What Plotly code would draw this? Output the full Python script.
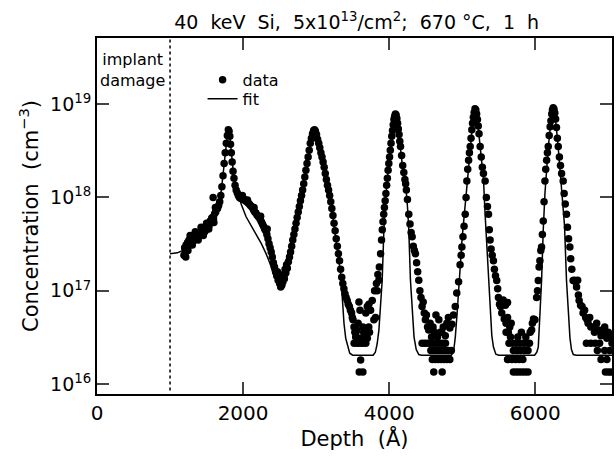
import plotly.graph_objects as go

# ---------------- data (depth in Å, concentration in cm^-3) ----------------
peak1_pts = [
    (1190, 2.4e17), (1200, 2.9e17), (1210, 2.6e17), (1215, 2.3e17), (1220, 3.1e17), (1230, 2.8e17),
    (1240, 3.3e17), (1245, 2.7e17), (1250, 3.0e17), (1260, 3.5e17), (1270, 3.2e17), (1275, 3.9e17),
    (1280, 3.6e17), (1290, 3.3e17), (1300, 3.8e17), (1305, 3.1e17), (1310, 3.4e17), (1320, 3.7e17),
    (1335, 3.5e17), (1345, 4.3e17), (1350, 3.9e17), (1360, 3.6e17), (1375, 4.1e17), (1385, 3.5e17),
    (1390, 3.8e17), (1400, 4.2e17), (1415, 4.0e17), (1425, 4.8e17), (1430, 4.4e17), (1445, 4.1e17),
    (1455, 3.9e17), (1460, 4.6e17), (1475, 4.3e17), (1490, 4.9e17), (1500, 5.3e17), (1505, 4.6e17),
    (1520, 5.2e17), (1530, 4.6e17), (1535, 5.0e17), (1550, 5.6e17), (1565, 5.4e17), (1570, 6.0e17),
    (1580, 6.1e17), (1590, 1.0e18), (1595, 5.9e17), (1600, 5.4e17), (1610, 6.7e17), (1620, 7.8e17),
    (1625, 7.0e17), (1650, 7.6e17), (1665, 8.2e17), (1680, 9.0e17), (1695, 1.05e18), (1710, 1.3e18),
    (1725, 1.7e18), (1740, 2.3e18), (1755, 3.0e18), (1770, 3.8e18), (1785, 4.6e18), (1798, 5.3e18),
    (1808, 5.1e18), (1818, 4.5e18), (1828, 3.7e18), (1838, 3.0e18), (1850, 2.4e18), (1862, 1.9e18),
    (1875, 1.6e18), (1890, 1.35e18), (1905, 1.2e18), (1920, 1.12e18), (1935, 1.05e18), (1950, 1.0e18),
    (1965, 9.8e17), (1980, 9.7e17), (1990, 1.05e18), (1995, 9.5e17), (2010, 9.6e17), (2025, 9.3e17),
    (2040, 9.1e17), (2055, 9.0e17), (2060, 9.4e17), (2070, 8.7e17), (2085, 8.5e17), (2100, 8.2e17),
    (2115, 8.0e17), (2130, 7.7e17), (2145, 7.3e17), (2150, 7.8e17), (2160, 7.0e17), (2175, 6.8e17),
    (2190, 6.5e17), (2205, 6.3e17), (2220, 6.1e17), (2235, 5.8e17), (2240, 6.3e17), (2250, 5.5e17),
    (2265, 5.2e17), (2280, 4.9e17), (2295, 4.6e17), (2310, 4.4e17), (2325, 4.0e17), (2330, 4.6e17),
    (2340, 3.6e17), (2355, 3.2e17), (2370, 2.9e17), (2385, 2.6e17), (2400, 2.3e17), (2415, 2.0e17),
    (2430, 1.8e17), (2445, 1.6e17), (2460, 1.45e17),
]
valley1_pts = [
    (2470, 1.6e17), (2480, 1.3e17), (2490, 1.5e17), (2500, 1.2e17), (2505, 1.4e17), (2515, 1.1e17),
    (2520, 1.3e17), (2530, 1.15e17), (2535, 1.45e17), (2545, 1.25e17), (2555, 1.5e17), (2565, 1.35e17),
    (2575, 1.7e17), (2585, 1.55e17), (2595, 1.9e17), (2605, 1.75e17), (2620, 2.05e17),
]
peak2_pts = [
    (2635, 2.3e17), (2650, 2.6e17), (2665, 3.0e17), (2680, 3.5e17), (2695, 4.0e17), (2710, 4.6e17),
    (2725, 5.3e17), (2740, 6.1e17), (2755, 7.0e17), (2770, 8.0e17), (2785, 9.2e17), (2800, 1.05e18),
    (2815, 1.2e18), (2830, 1.4e18), (2845, 1.65e18), (2860, 1.95e18), (2875, 2.3e18), (2890, 2.7e18),
    (2905, 3.2e18), (2920, 3.8e18), (2935, 4.3e18), (2950, 4.8e18), (2965, 5.2e18), (2978, 5.3e18),
    (2990, 5.1e18), (3005, 4.7e18), (3020, 4.2e18), (3035, 3.8e18), (3050, 3.4e18), (3065, 3.0e18),
    (3080, 2.7e18), (3095, 2.4e18), (3110, 2.1e18), (3125, 1.8e18), (3140, 1.55e18), (3155, 1.35e18),
    (3170, 1.2e18), (3185, 1.05e18), (3200, 9.0e17), (3215, 7.6e17), (3230, 6.4e17), (3245, 5.3e17),
    (3260, 4.4e17), (3275, 3.6e17), (3290, 3.0e17), (3305, 2.5e17), (3320, 2.1e17), (3335, 1.7e17),
    (3350, 1.4e17), (3365, 1.2e17),
]
trough1_pts = [
    (3380, 1.05e17), (3395, 9.3e16), (3410, 8.5e16), (3425, 7.9e16), (3440, 7.2e16), (3455, 6.8e16),
    (3470, 6.2e16), (3485, 5.8e16), (3495, 5.2e16), (3505, 4.9e16), (3518, 4.1e16), (3530, 3.6e16),
    (3541, 3.2e16), (3555, 3.8e16), (3575, 4.5e16), (3586, 7.6e16), (3600, 6.2e16), (3609, 1.82e16),
    (3590, 1.35e16), (3640, 1.35e16), (3520, 2.75e16), (3560, 2.75e16), (3600, 2.75e16), (3640, 2.75e16),
    (3680, 2.75e16), (3580, 3.1e16), (3620, 3.1e16), (3660, 3.1e16), (3700, 3.1e16), (3545, 3.6e16),
    (3650, 3.6e16), (3690, 3.6e16), (3730, 3.6e16), (3640, 4.1e16), (3720, 4.1e16), (3680, 5.8e16),
    (3700, 6.8e16), (3722, 7.2e16), (3745, 6.2e16), (3768, 7.9e16), (3790, 4.9e16), (3800, 1.0e17),
    (3813, 5.2e16), (3825, 1.2e17), (3836, 1.0e17), (3845, 1.5e17), (3859, 1.3e17), (3865, 1.8e17),
    (3882, 2.5e17),
]
peak3_pts = [
    (3895, 3.5e17), (3905, 4.5e17), (3915, 5.5e17), (3925, 6.6e17), (3935, 7.8e17), (3945, 9.2e17),
    (3955, 1.1e18), (3965, 1.35e18), (3975, 1.6e18), (3985, 1.95e18), (3995, 2.3e18), (4005, 2.7e18),
    (4015, 3.2e18), (4025, 3.8e18), (4035, 4.5e18), (4045, 5.2e18), (4055, 6.0e18), (4065, 6.8e18),
    (4075, 7.4e18), (4085, 7.8e18), (4095, 7.6e18), (4105, 7.0e18), (4115, 6.2e18), (4125, 5.4e18),
    (4135, 4.7e18), (4145, 4.0e18), (4155, 3.5e18), (4170, 2.8e18), (4185, 2.2e18), (4200, 1.85e18),
    (4215, 1.55e18), (4225, 1.4e18), (4235, 1.2e18), (4250, 9.5e17), (4268, 6.6e17), (4285, 5.2e17),
    (4300, 4.2e17), (4314, 3.8e17), (4330, 3.0e17), (4345, 2.7e17), (4359, 2.5e17), (4375, 2.0e17),
    (4390, 1.6e17), (4405, 1.3e17), (4420, 1.0e17), (4435, 8.5e16), (4450, 6.8e16), (4465, 7.6e16),
    (4480, 5.8e16), (4495, 4.9e16), (4510, 5.5e16), (4525, 4.1e16), (4541, 3.8e16),
]
trough2_pts = [
    (4560, 4.5e16), (4580, 3.2e16), (4600, 4.1e16), (4620, 3.6e16), (4450, 2.75e16), (4490, 2.75e16),
    (4530, 2.75e16), (4570, 2.75e16), (4610, 2.75e16), (4650, 2.75e16), (4690, 2.75e16), (4730, 2.75e16),
    (4770, 2.75e16), (4570, 2.3e16), (4610, 2.3e16), (4650, 2.3e16), (4690, 2.3e16), (4730, 2.3e16),
    (4770, 2.3e16), (4810, 2.3e16), (4850, 2.3e16), (4590, 1.84e16), (4630, 1.84e16), (4670, 1.84e16),
    (4710, 1.84e16), (4750, 1.84e16), (4790, 1.84e16), (4830, 1.84e16), (4610, 1.35e16), (4725, 1.35e16),
    (4660, 3.2e16), (4700, 3.6e16), (4720, 3.6e16), (4740, 4.1e16), (4768, 3.3e16), (4790, 4.5e16),
    (4810, 5.2e16), (4830, 4.0e16), (4859, 4.4e16), (4680, 4.9e16), (4640, 5.5e16),
]
peak4_pts = [
    (4880, 5.5e16), (4904, 6.8e16), (4925, 9.5e16), (4950, 1.25e17), (4970, 1.9e17), (4985, 2.4e17),
    (4995, 2.95e17), (5010, 3.8e17), (5025, 4.9e17), (5041, 6.6e17), (5052, 1.0e18), (5063, 1.5e18),
    (5075, 2.0e18), (5087, 2.5e18), (5098, 3.0e18), (5109, 3.5e18), (5120, 4.3e18), (5131, 5.3e18),
    (5141, 6.2e18), (5152, 7.2e18), (5163, 8.1e18), (5175, 8.9e18), (5186, 8.6e18), (5197, 7.8e18),
    (5208, 6.8e18), (5219, 5.8e18), (5230, 4.8e18), (5245, 3.5e18), (5260, 2.7e18), (5275, 2.1e18),
    (5290, 1.8e18), (5313, 1.5e18), (5330, 1.0e18), (5345, 8.0e17), (5359, 6.6e17), (5370, 4.5e17),
    (5381, 3.5e17), (5395, 2.8e17), (5410, 2.4e17), (5427, 2.1e17), (5440, 1.7e17), (5455, 1.45e17),
    (5472, 1.29e17), (5485, 1.05e17), (5495, 8.5e16), (5510, 7.2e16), (5525, 6.8e16), (5541, 5.8e16),
    (5560, 8.0e16), (5575, 5.0e16), (5590, 7.0e16), (5600, 4.5e16), (5613, 4.5e16), (5620, 7.5e16),
    (5630, 3.6e16),
]
trough3_pts = [
    (5640, 2.75e16), (5690, 2.75e16), (5740, 2.75e16), (5790, 2.75e16), (5840, 2.75e16), (5890, 2.75e16),
    (5700, 2.3e16), (5750, 2.3e16), (5800, 2.3e16), (5850, 2.3e16), (5900, 2.3e16), (5620, 1.84e16),
    (5680, 1.84e16), (5730, 1.84e16), (5780, 1.84e16), (5830, 1.84e16), (5700, 1.35e16), (5740, 1.35e16),
    (5780, 1.35e16), (5820, 1.35e16), (5860, 1.35e16), (5900, 1.35e16), (5660, 3.2e16), (5760, 3.2e16),
    (5870, 3.2e16), (5600, 3.6e16), (5810, 3.6e16), (5930, 3.6e16), (5650, 4.1e16), (5620, 5.2e16),
    (5960, 4.5e16), (5670, 4.5e16), (5920, 2.75e16), (5950, 3.8e16),
]
peak5_pts = [
    (5975, 5.0e16), (5995, 4.9e16), (6018, 8.5e16), (6030, 1.0e17), (6041, 1.29e17), (6052, 1.8e17),
    (6063, 2.1e17), (6075, 2.7e17), (6086, 2.95e17), (6097, 4.0e17), (6109, 5.6e17), (6120, 9.0e17),
    (6132, 1.5e18), (6143, 2.0e18), (6155, 2.5e18), (6166, 3.0e18), (6177, 3.5e18), (6190, 4.6e18),
    (6203, 5.7e18), (6214, 6.6e18), (6225, 7.8e18), (6235, 8.6e18), (6245, 9.1e18), (6256, 8.8e18),
    (6267, 8.0e18), (6278, 6.9e18), (6290, 5.6e18), (6302, 4.3e18), (6314, 3.5e18), (6330, 2.7e18),
    (6345, 2.2e18), (6360, 1.8e18), (6382, 1.5e18), (6395, 1.1e18), (6410, 8.5e17), (6427, 6.6e17),
    (6440, 4.8e17), (6455, 3.6e17), (6473, 2.95e17), (6485, 2.2e17), (6500, 1.7e17), (6518, 1.29e17),
    (6535, 1.3e17), (6550, 1.25e17), (6565, 1.1e17), (6580, 1.3e17), (6590, 9.0e16), (6600, 7.9e16),
    (6620, 7.0e16), (6640, 6.8e16), (6654, 5.8e16), (6675, 6.2e16), (6690, 5.2e16), (6710, 4.9e16),
    (6723, 4.5e16), (6745, 5.2e16), (6760, 4.1e16), (6791, 4.1e16), (6810, 3.6e16), (6840, 4.5e16),
    (6870, 3.8e16), (6900, 3.3e16), (6927, 3.6e16), (6950, 4.1e16), (6980, 3.1e16), (7000, 3.6e16),
    (7030, 3.2e16), (7050, 2.75e16),
]
trough4_pts = [
    (6700, 2.75e16), (6760, 2.75e16), (6820, 2.75e16), (6880, 2.75e16), (6850, 2.3e16), (6950, 2.3e16),
    (7020, 2.3e16), (6900, 1.84e16), (6980, 1.84e16), (6960, 1.35e16), (7000, 1.35e16), (7040, 1.35e16),
]

fit_pts = [
    (1000, 2.5e17), (1100, 2.55e17), (1200, 2.75e17), (1300, 3.1e17), (1400, 3.7e17), (1500, 4.6e17),
    (1600, 6.2e17), (1654, 7.9e17), (1700, 1.15e18), (1745, 2.6e18), (1775, 4.0e18), (1790, 4.7e18),
    (1805, 5.1e18), (1820, 4.3e18), (1836, 3.0e18), (1860, 2.1e18), (1882, 1.66e18), (1910, 1.25e18),
    (1950, 1.0e18), (1973, 8.5e17), (2041, 6.2e17), (2110, 5.0e17), (2177, 4.1e17), (2250, 3.2e17),
    (2314, 2.5e17), (2370, 1.95e17), (2427, 1.41e17), (2480, 1.2e17), (2520, 1.12e17), (2560, 1.15e17),
    (2600, 1.45e17), (2632, 2.2e17), (2700, 4.2e17), (2800, 1.1e18), (2880, 2.6e18), (2930, 4.0e18),
    (2975, 5.1e18), (3020, 4.2e18), (3086, 2.6e18), (3177, 1.15e18), (3245, 5.0e17), (3313, 2.2e17),
    (3336, 1.5e17), (3360, 8.0e16), (3381, 4.5e16), (3405, 3.1e16), (3427, 2.6e16), (3460, 2.15e16),
    (3500, 2.05e16), (3780, 2.05e16), (3810, 2.2e16), (3835, 2.7e16), (3859, 3.8e16), (3880, 6.3e16),
    (3904, 1.3e17), (3927, 4.5e17), (3950, 9.5e17), (3995, 2.3e18), (4040, 5.0e18), (4086, 7.8e18),
    (4130, 5.0e18), (4180, 2.2e18), (4225, 1.4e18), (4250, 8.0e17), (4268, 4.5e17), (4291, 1.3e17),
    (4314, 5.8e16), (4340, 3.2e16), (4370, 2.35e16), (4405, 2.08e16), (4440, 2.05e16), (4850, 2.05e16),
    (4880, 2.2e16), (4905, 3.2e16), (4930, 5.8e16), (4975, 1.95e17), (5000, 3.8e17), (5050, 1.0e18),
    (5109, 3.5e18), (5141, 6.0e18), (5177, 8.9e18), (5215, 6.0e18), (5245, 3.5e18), (5290, 1.6e18),
    (5313, 6.6e17), (5336, 2.95e17), (5360, 1.2e17), (5381, 5.8e16), (5405, 3.3e16), (5427, 2.5e16),
    (5460, 2.1e16), (5500, 2.05e16), (5990, 2.05e16), (6020, 2.2e16), (6041, 2.5e16), (6065, 6.0e16),
    (6086, 1.3e17), (6109, 4.5e17), (6132, 1.1e18), (6177, 3.4e18), (6214, 6.5e18), (6245, 9.1e18),
    (6280, 6.5e18), (6314, 3.4e18), (6360, 1.3e18), (6400, 5.0e17), (6427, 1.3e17), (6450, 5.8e16),
    (6475, 3.1e16), (6495, 2.35e16), (6520, 2.08e16), (6560, 2.05e16), (7070, 2.05e16),
]

damage_edge = 1000  # Å, end of implant damage region
x_ticks = [0, 2000, 4000, 6000]
y_tickvals = [1e16, 1e17, 1e18, 1e19]
y_ticktext = ["10<sup>16</sup>", "10<sup>17</sup>", "10<sup>18</sup>", "10<sup>19</sup>"]

data_pts = (peak1_pts + valley1_pts + peak2_pts + trough1_pts + peak3_pts + trough2_pts
            + peak4_pts + trough3_pts + peak5_pts + trough4_pts)
data_x = [p[0] for p in data_pts]
data_y = [p[1] for p in data_pts]
fit_x = [p[0] for p in fit_pts]
fit_y = [p[1] for p in fit_pts]

FONT = "DejaVu Sans"
NB = "\u00a0"

fig = go.Figure()
fig.add_trace(go.Scatter(x=data_x, y=data_y, mode="markers", name="data", legend="legend",
                         marker=dict(color="black", size=7.5, line=dict(width=0))))
fig.add_trace(go.Scatter(x=fit_x, y=fit_y, mode="lines", name="fit", legend="legend2",
                         line=dict(color="black", width=1.5)))

fig.add_shape(type="line", xref="x", yref="paper", x0=damage_edge, x1=damage_edge, y0=0.01, y1=1,
              line=dict(color="black", width=1.5, dash="dot"))

fig.add_annotation(xref="paper", yref="paper", x=0.068, y=0.91, text="implant<br>damage",
                   showarrow=False, font=dict(family=FONT, size=16, color="black"),
                   align="center", xanchor="center", yanchor="middle")

title_text = (f"40{NB}{NB}keV{NB}{NB}Si,{NB}{NB}5x10<sup>13</sup>/cm<sup>2</sup>;{NB}{NB}"
              f"670{NB}°C,{NB}{NB}1{NB}{NB}h")

legend_common = dict(xanchor="left", yanchor="top", bgcolor="rgba(0,0,0,0)",
                     font=dict(family=FONT, size=16, color="black"), itemwidth=30)

fig.update_layout(
    width=616, height=456,
    margin=dict(l=97, r=2, t=38, b=62),
    paper_bgcolor="white", plot_bgcolor="white",
    font=dict(family=FONT, size=18, color="black"),
    title=dict(text=title_text, x=0.579, xanchor="center", y=0.952, yanchor="middle",
               font=dict(family=FONT, size=19, color="black")),
    showlegend=True,
    legend=dict(x=0.205, y=0.93, **legend_common),
    legend2=dict(x=0.205, y=0.877, **legend_common),
    xaxis=dict(range=[0, 7050], tickvals=x_ticks, ticks="inside", ticklen=12, tickwidth=1.5,
               showline=True, linewidth=2, linecolor="black", mirror="ticks", showgrid=False,
               zeroline=False, tickfont=dict(family=FONT, size=20),
               title=dict(text=f"Depth{NB}{NB}(Å)", font=dict(family=FONT, size=21), standoff=6)),
    yaxis=dict(type="log", range=[15.896, 19.706], tickvals=y_tickvals, ticktext=y_ticktext,
               ticks="inside", ticklen=12, tickwidth=1.5, showline=True, linewidth=2,
               linecolor="black", mirror="ticks", showgrid=False, zeroline=False,
               tickfont=dict(family=FONT, size=19),
               title=dict(text=f"Concentration{NB}{NB}(cm<sup>−3</sup>)",
                          font=dict(family=FONT, size=21), standoff=6)),
)

fig.write_html("out.html")
